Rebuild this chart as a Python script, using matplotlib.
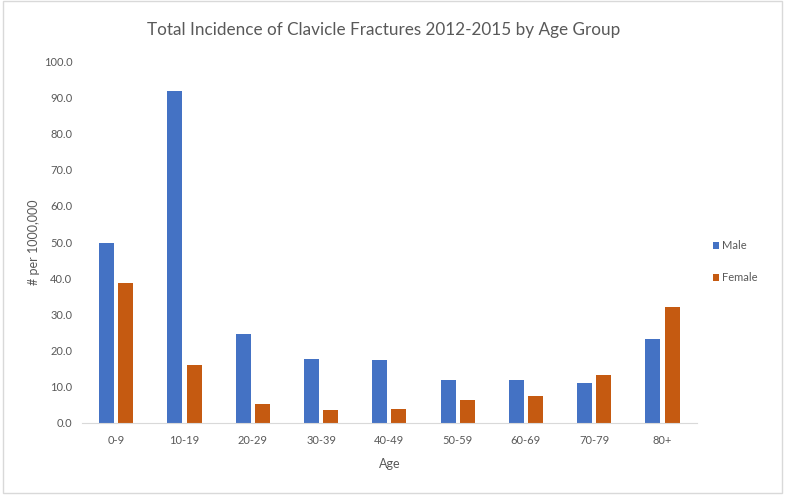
import matplotlib.pyplot as plt
import numpy as np
from matplotlib.patches import Rectangle

age_groups = ['0-9', '10-19', '20-29', '30-39', '40-49', '50-59', '60-69', '70-79', '80+']
male = [49.8, 91.8, 24.7, 17.6, 17.3, 11.9, 11.9, 11.1, 23.3]
female = [38.7, 16.0, 5.2, 3.6, 3.9, 6.3, 7.4, 13.3, 32.1]

plt.rcParams['font.family'] = ['Lato', 'DejaVu Sans']

fig = plt.figure(figsize=(7.89, 4.97), dpi=100)
ax = fig.add_axes([0.104, 0.149, 0.779, 0.728])

x = np.arange(len(age_groups))
w = 0.22
ax.bar(x - 0.14, male, w, color='#4472C4', label='Male')
ax.bar(x + 0.14, female, w, color='#C55A11', label='Female')

ax.set_xlim(-0.5, len(age_groups) - 0.5)
ax.set_ylim(0, 100)
ax.set_yticks(np.arange(0, 101, 10))
ax.set_yticklabels([f'{v:.1f}' for v in range(0, 101, 10)])
ax.set_xticks(x)
ax.set_xticklabels(age_groups)
ax.tick_params(length=0, labelsize=8, colors='#595959')
ax.tick_params(axis='y', pad=7)
ax.tick_params(axis='x', pad=9)

for s in ['top', 'right', 'left']:
    ax.spines[s].set_visible(False)
ax.spines['bottom'].set_color('#D9D9D9')

ax.set_xlabel('Age', fontsize=9, color='#595959', labelpad=8)
ax.set_ylabel('# per 1000,000', fontsize=9, color='#595959', labelpad=3)

fig.suptitle('Total Incidence of Clavicle Fractures 2012-2015 by Age Group',
             x=0.486, y=0.955, fontsize=12.3, color='#595959')

ax.legend(loc='center left', bbox_to_anchor=(1.01, 0.445), frameon=False,
          fontsize=8, handlelength=0.6, handleheight=0.6, handletextpad=0.2,
          labelspacing=1.9, labelcolor='#595959')

fig.patches.append(Rectangle((3 / 789, 4 / 497), 779 / 789, 492 / 497,
                             transform=fig.transFigure, fill=False,
                             edgecolor='#D9D9D9', linewidth=1.0))

plt.savefig('out.png', dpi=100)
